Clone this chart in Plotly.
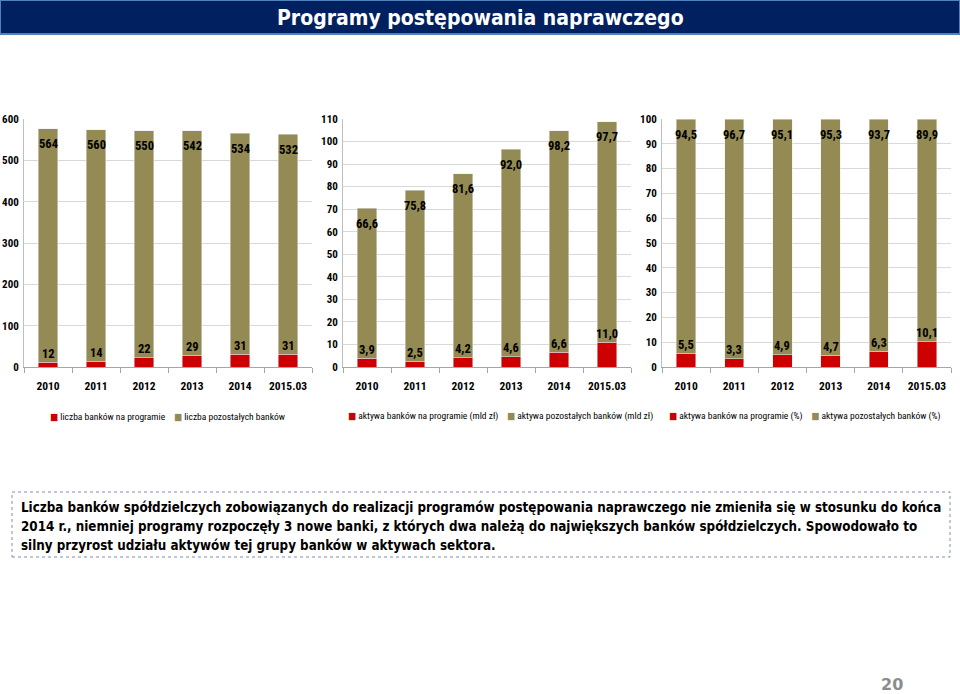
import plotly.graph_objects as go

years = ['2010', '2011', '2012', '2013', '2014', '2015.03']

banks_program = [12, 14, 22, 29, 31, 31]
banks_other = [564, 560, 550, 542, 534, 532]

assets_program = [3.9, 2.5, 4.2, 4.6, 6.6, 11.0]
assets_other = [66.6, 75.8, 81.6, 92.0, 98.2, 97.7]

share_program = [5.5, 3.3, 4.9, 4.7, 6.3, 10.1]
share_other = [94.5, 96.7, 95.1, 95.3, 93.7, 89.9]

legend_names = [
    ('liczba banków na programie', 'liczba pozostałych banków'),
    ('aktywa banków na programie (mld zł)', 'aktywa pozostałych banków (mld zł)'),
    ('aktywa banków na programie (%)', 'aktywa pozostałych banków (%)'),
]

title = 'Programy postępowania naprawczego'
note_lines = [
    'Liczba banków spółdzielczych zobowiązanych do realizacji programów postępowania naprawczego nie zmieniła się w stosunku do końca',
    '2014 r., niemniej programy rozpoczęły 3 nowe banki, z których dwa należą do największych banków spółdzielczych. Spowodowało to',
    'silny przyrost udziału aktywów tej grupy banków w aktywach sektora.',
]

RED = '#cc0000'
OLIVE = '#948a54'
NARROW = 'Roboto Condensed, Liberation Sans Narrow, DejaVu Sans Condensed, sans-serif'
WIDE = 'DejaVu Sans Condensed, DejaVu Sans, sans-serif'
W, H = 960, 694


def px(x):
    return x / W


def py(y):
    return 1 - y / H


def fmt(v, decimals):
    if decimals == 0:
        return str(int(v))
    return f'{v:.{decimals}f}'.replace('.', ',')


# category positions on the x axis, labelled with the years
pos = list(range(len(years)))

charts = [
    (banks_program, banks_other, 0, (24, 312), [0, 600], 100, 48),
    (assets_program, assets_other, 1, (343, 631), [0, 110], 10, 346),
    (share_program, share_other, 1, (662, 951), [0, 100], 10, 667),
]

fig = go.Figure()
annotations = []
layout_axes = {}

for k, (prog, other, dec, (x0, x1), yrange, dtick, leg_x) in enumerate(charts):
    n = '' if k == 0 else str(k + 1)
    fig.add_trace(go.Bar(x=pos, y=prog, name=legend_names[k][0], marker_color=RED, width=0.4,
                         xaxis='x' + n, yaxis='y' + n, showlegend=False))
    fig.add_trace(go.Bar(x=pos, y=other, name=legend_names[k][1], marker_color=OLIVE, width=0.4,
                         xaxis='x' + n, yaxis='y' + n, showlegend=False))

    for i in pos:
        annotations.append(dict(x=i, y=prog[i] + other[i], xref='x' + n, yref='y' + n,
                                text='<b>' + fmt(other[i], dec) + '</b>', showarrow=False, yshift=-15,
                                font=dict(family=NARROW, size=12.5, color='black')))
        annotations.append(dict(x=i, y=prog[i], xref='x' + n, yref='y' + n,
                                text='<b>' + fmt(prog[i], dec) + '</b>', showarrow=False, yshift=9,
                                font=dict(family=NARROW, size=12.5, color='black')))

    # legend row under each chart
    legend_text = ('<span style="color:%s">■</span> %s    <span style="color:%s">■</span> %s'
                   % (RED, legend_names[k][0], OLIVE, legend_names[k][1]))
    annotations.append(dict(x=px(leg_x), y=py(416), xref='paper', yref='paper', text=legend_text,
                            showarrow=False, xanchor='left', yanchor='middle',
                            font=dict(family=NARROW, size=9.5, color='black')))

    layout_axes['xaxis' + n] = dict(
        domain=[px(x0), px(x1)], anchor='y' + n, range=[-0.5, len(years) - 0.5],
        tickvals=pos, ticktext=['<b>' + y + '</b>' for y in years], ticks='',
        minor=dict(tick0=0.5, dtick=1, ticks='outside', ticklen=5, tickcolor='#a6a6a6', showgrid=False),
        showline=True, linecolor='#a6a6a6', linewidth=1, ticklabelstandoff=8,
        tickfont=dict(family=NARROW, size=11.5, color='black'),
        showgrid=False, zeroline=False,
    )
    layout_axes['yaxis' + n] = dict(
        domain=[py(367), py(119)], anchor='x' + n, range=yrange, dtick=dtick,
        showline=True, linecolor='#bfbfbf', linewidth=1, ticklabelstandoff=2,
        showgrid=True, gridcolor='#d9d9d9', gridwidth=1, zeroline=False,
        tickfont=dict(family=NARROW, size=11, color='black', weight='bold'),
    )

shapes = [
    dict(type='rect', xref='paper', yref='paper', x0=0, x1=1, y0=py(34), y1=1,
         fillcolor='#002060', line=dict(color='#4f81bd', width=2), layer='below'),
    dict(type='rect', xref='paper', yref='paper', x0=px(12), x1=px(950), y0=py(557), y1=py(492),
         fillcolor='rgba(0,0,0,0)', line=dict(color='#7f8faf', width=1, dash='dot')),
]
annotations.append(dict(x=0.5, y=py(18), xref='paper', yref='paper', text='<b>' + title + '</b>',
                        showarrow=False, xanchor='center', yanchor='middle',
                        font=dict(family=WIDE, size=21, color='white')))

for j, line in enumerate(note_lines):
    annotations.append(dict(x=px(19), y=py(507 + 19 * j), xref='paper', yref='paper',
                            text='<b>' + line + '</b>', showarrow=False, xanchor='left', yanchor='middle',
                            font=dict(family=WIDE, size=13.3, color='black')))

annotations.append(dict(x=px(892), y=py(684), xref='paper', yref='paper', text='<b>20</b>',
                        showarrow=False, xanchor='center', yanchor='middle',
                        font=dict(family='DejaVu Sans, sans-serif', size=16, color='#8c8c8c')))

fig.update_layout(
    width=W, height=H, margin=dict(l=0, r=0, t=0, b=0, autoexpand=False),
    barmode='stack', showlegend=False,
    paper_bgcolor='white', plot_bgcolor='white',
    annotations=annotations, shapes=shapes,
    **layout_axes,
)

fig.write_html('out.html', config={'displayModeBar': False},
               post_script="document.body.style.margin='0';")
